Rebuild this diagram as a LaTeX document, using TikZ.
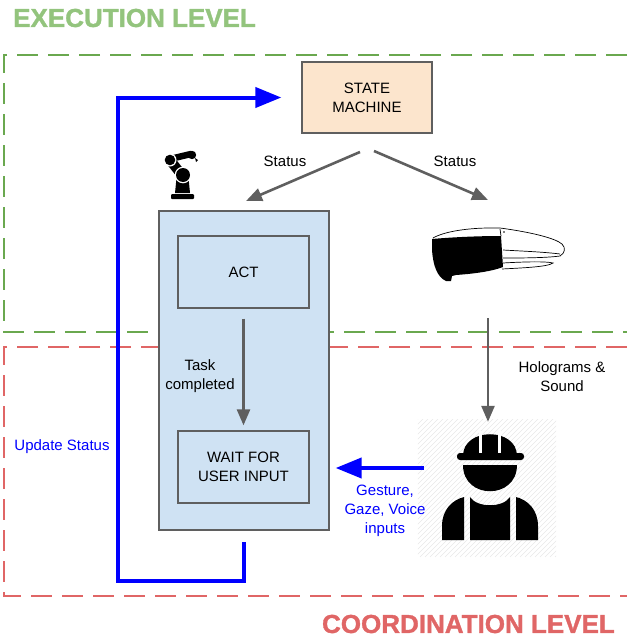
\documentclass[tikz,border=0pt]{standalone}
\usepackage{fontspec}
\setmainfont{Liberation Sans}
\newfontfamily\headfont{Liberation Sans Bold}[FakeBold=1.3]
\usetikzlibrary{arrows.meta}

\definecolor{execgreen}{HTML}{93C47D}
\definecolor{execdash}{HTML}{6AA84F}
\definecolor{coordred}{HTML}{E06666}
\definecolor{smfill}{HTML}{FCE5CD}
\definecolor{actfill}{HTML}{CFE2F3}
\definecolor{edge}{HTML}{5F5F5F}

\tikzset{
  lbl/.style={font=\fontsize{15}{19}\selectfont, align=center, inner sep=0pt},
  box/.style={draw=edge, line width=1.3pt, fill=actfill, lbl},
  flow/.style={draw=edge, line width=2.6pt, -{Triangle[length=16pt,width=13pt]}},
  user/.style={draw=blue, line width=4pt, -{Triangle[length=26pt,width=20pt]}},
  level/.style={line width=2.6pt, dash pattern=on 21pt off 10pt},
  title/.style={font=\headfont\fontsize{26}{30}\selectfont, inner sep=0pt},
}

\begin{document}
\begin{tikzpicture}[x=1pt,y=-1pt]
\useasboundingbox (0,0) rectangle (627,637);

% level frames and titles
\draw[level, execdash] (627,55) -- (4,55) -- (4,332) -- (627,332);
\draw[level, coordred] (627,347) -- (4,347) -- (4,596) -- (627,596);
\node[title, text=execgreen, anchor=west] (exec) at (13,18) {EXECUTION LEVEL};
\node[title, text=coordred, anchor=east] (coord) at (615,624) {COORDINATION LEVEL};

% blocks
\node[box, fill=smfill, minimum width=130, minimum height=71] (sm) at (367,97.5) {STATE\\MACHINE};
\node[box, minimum width=170, minimum height=319] (outer) at (244,370.5) {};
\node[box, minimum width=131, minimum height=72] (act) at (243.5,272) {ACT};
\node[box, minimum width=131, minimum height=72] (wait) at (243.5,467) {WAIT FOR\\USER INPUT};

% robot arm
\begin{scope}[fill=black]
  \fill[rounded corners=1pt] (171,194) rectangle (194,199);
  \fill (175,193) -- (176.5,178) -- (188.5,178) -- (190,193) -- cycle;
  \draw[line width=10pt, line cap=round] (170,160) -- (181,174);
  \draw[line width=6.5pt, line cap=round] (170,159) -- (191,154);
  \fill (192,155) circle (4.2);
  \fill (195,158) -- (198,160) -- (196,162) -- cycle;
  \fill[white] (183,175) circle (8.3);
  \fill (183,175) circle (7);
  \fill[white] (170,160) circle (6.5);
  \fill (170,160) circle (5.3);
\end{scope}

% head-mounted display
\begin{scope}[line width=0.7pt]
  \draw (433,238) .. controls (445,231) and (470,228) .. (490,228)
        -- (500,228) .. controls (530,232) and (555,238) .. (562,244)
        .. controls (566,248) and (565,253) .. (560,256);
  \draw (500,229) -- (501,236);
  \draw (503,250) .. controls (520,251) and (545,252) .. (560,254);
  \draw (503,258) .. controls (520,258) and (545,258) .. (560,256);
  \draw (503,263) .. controls (520,262) and (545,261) .. (553,263)
        .. controls (548,267) and (520,268) .. (502,269);
  \fill (504,232) circle (0.8);
  \fill (432,239) .. controls (455,237) and (480,236) .. (501,236)
        -- (503,267) .. controls (490,272) and (470,274) .. (456,275)
        -- (452,276) -- (451,281) -- (446,281)
        .. controls (437,277) and (433,265) .. (432,250) -- cycle;
\end{scope}

% operator pictogram on a hatched panel
\node[minimum width=138, minimum height=137, inner sep=0pt] (worker) at (487,488.5) {};
\begin{scope}
  \clip (worker.south west) rectangle (worker.north east);
  \foreach \k in {0,5,...,280}
    \draw[black!9, line width=0.5pt] (280+\k,557) -- ++(140,-140);
\end{scope}
\begin{scope}[fill=black]
  \fill (463,456) .. controls (463,427) and (517,427) .. (517,456) -- cycle;
  \fill[rounded corners=3pt] (457,453) rectangle (524,460);
  \fill[white] (479,431) rectangle (482,453);
  \fill[white] (498,431) rectangle (501,453);
  \fill (463,465) .. controls (463,500) and (517,500) .. (517,465) -- cycle;
  \fill (442,540) -- (442,526) .. controls (442,510) and (452,500) .. (464,497) -- (464,540) -- cycle;
  \fill (538,540) -- (538,526) .. controls (538,510) and (528,500) .. (516,497) -- (516,540) -- cycle;
  \fill (470,497) .. controls (477,508) and (503,508) .. (510,497) -- (510,540) -- (470,540) -- cycle;
\end{scope}

% status flows
\coordinate (smL) at (360,152);
\coordinate (smR) at (374,151);
\coordinate (toAct) at (246,201);
\coordinate (toHmd) at (488,200);
\draw[flow] (smL) -- (toAct);
\draw[flow] (smR) -- (toHmd);
\node[lbl] (stL) at (285,161) {Status};
\node[lbl] (stR) at (455,161) {Status};

\draw[flow, shorten <=10pt, shorten >=5pt] (act.south) -- (wait.north);
\node[lbl] (done) at (200,376) {Task\\completed};

\coordinate (hmdOut) at (488,318);
\draw[flow, shorten >=-2pt] (hmdOut) -- (hmdOut |- worker.north);
\node[lbl] (holo) at (562,377) {Holograms \&\\Sound};

% user input and status feedback
\coordinate (inStart) at (424,468);
\draw[user, shorten >=26pt] (inStart) -- (inStart -| wait.east);
\node[lbl, text=blue] (gest) at (385,511) {Gesture,\\Gaze, Voice\\inputs};

\coordinate (loopStart) at (244,542);
\draw[user, shorten >=20pt] (loopStart) -- (244,581) -- (118,581) -- (118,97.5) -- (sm.west);
\node[lbl, text=blue] (upd) at (62,447) {Update Status};
\end{tikzpicture}
\end{document}
